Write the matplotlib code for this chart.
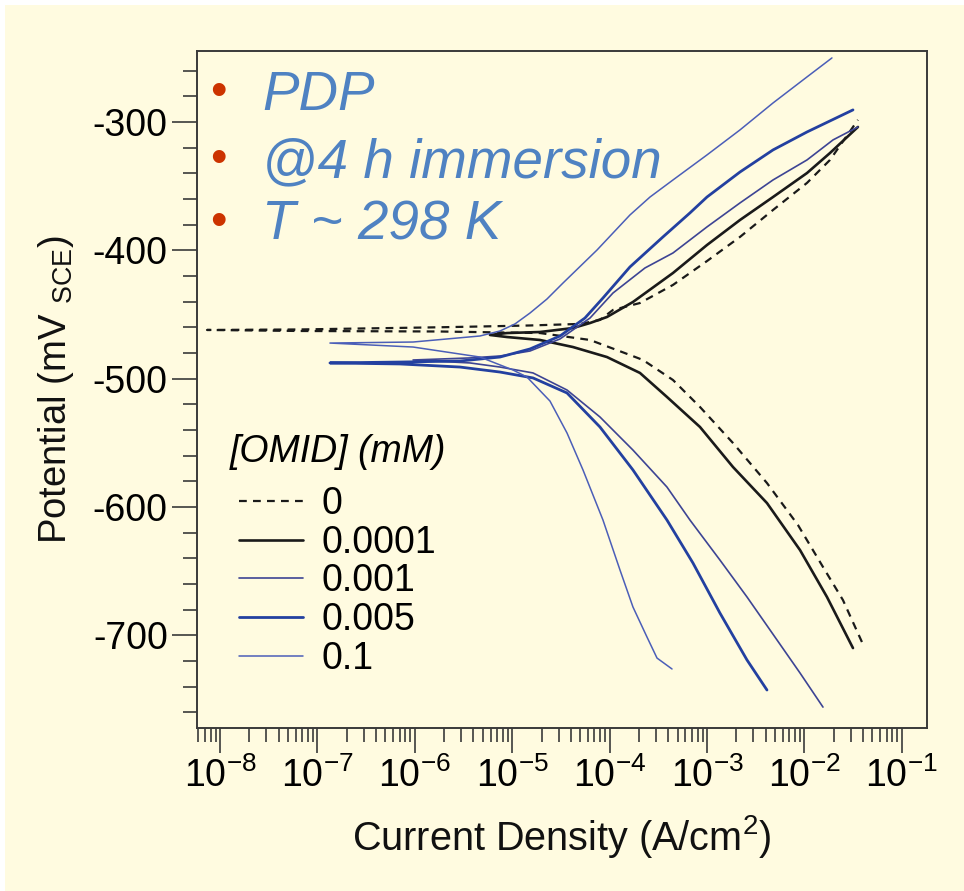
import numpy as np
import matplotlib
matplotlib.use('Agg')
import matplotlib.pyplot as plt
from matplotlib.ticker import LogLocator, MultipleLocator, NullFormatter, FixedLocator
from matplotlib.patches import Rectangle

plt.rcParams['font.family'] = ['Liberation Sans', 'DejaVu Sans']
plt.rcParams['mathtext.fontset'] = 'custom'
plt.rcParams['mathtext.rm'] = 'Liberation Sans'
plt.rcParams['mathtext.it'] = 'Liberation Sans:italic'
plt.rcParams['mathtext.bf'] = 'Liberation Sans:bold'
plt.rcParams['axes.unicode_minus'] = False

# ---------------- data (log10 of current density in A/cm2, potential in mV vs SCE)
concentrations = ['0', '0.0001', '0.001', '0.005', '0.1']
x_decades = [1e-8, 1e-7, 1e-6, 1e-5, 1e-4, 1e-3, 1e-2, 1e-1]

logi_0 = [-1.409, -1.604, -1.809, -2.066, -2.384, -2.733, -3.072, -3.349, -3.657, -3.791,
          -4.201, -4.715, -5.741, -7.179, -8.133, -7.179, -5.741, -5.331, -4.817, -4.304,
          -4.099, -3.965, -3.688, -3.349, -3.000, -2.661, -2.322, -1.973, -1.737, -1.450]
E_0 = [-705.3, -672.6, -646.8, -614.1, -581.4, -550.2, -522.1, -501.1, -485.5, -481.6,
       -469.9, -464.5, -463.3, -462.9, -462.1, -461.7, -460.0, -459.4, -458.6, -457.4,
       -454.3, -446.5, -441.1, -427.0, -408.4, -389.6, -368.6, -347.5, -329.6, -298.4]

logi_1 = [-1.501, -1.768, -2.045, -2.384, -2.733, -3.072, -3.411, -3.688, -4.027, -4.376,
          -4.715, -5.053, -5.228, -5.053, -4.715, -4.376, -4.201, -4.027, -3.760, -3.349,
          -3.000, -2.661, -2.322, -1.973, -1.737, -1.450]
E_1 = [-710.0, -670.2, -633.6, -597.0, -568.9, -537.7, -514.3, -495.6, -483.2, -475.4,
       -469.9, -467.6, -466.0, -464.5, -463.7, -460.6, -456.7, -452.0, -440.3, -417.7,
       -395.9, -376.4, -358.5, -339.8, -324.2, -303.9]

logi_2 = [-1.809, -2.045, -2.281, -2.589, -2.867, -3.175, -3.411, -3.760, -4.099, -4.437,
          -4.786, -5.125, -5.433, -6.018, -5.433, -5.125, -4.817, -4.509, -4.201, -3.965,
          -3.637, -3.349, -3.000, -2.661, -2.322, -1.973, -1.706, -1.450]
E_2 = [-756.0, -729.4, -703.7, -670.2, -641.4, -610.2, -584.5, -555.7, -529.9, -508.9,
       -495.6, -491.0, -487.8, -485.5, -483.9, -482.4, -478.5, -469.1, -452.8, -433.3,
       -413.8, -402.1, -381.8, -363.1, -345.2, -329.6, -314.0, -303.9]

logi_3 = [-2.384, -2.589, -2.867, -3.144, -3.411, -3.760, -4.099, -4.437, -4.786, -5.125,
          -5.536, -6.152, -6.871, -6.152, -5.536, -5.125, -4.817, -4.509, -4.253, -4.068,
          -3.791, -3.452, -3.175, -3.000, -2.661, -2.322, -1.973, -1.501]
E_3 = [-742.7, -719.3, -682.7, -643.7, -610.2, -571.2, -537.7, -511.2, -499.5, -494.9,
       -491.0, -488.6, -487.8, -487.1, -486.3, -483.2, -476.9, -466.8, -452.8, -437.2,
       -413.0, -389.6, -370.9, -358.5, -339.0, -321.8, -307.8, -290.6]

logi_4 = [-3.359, -3.513, -3.616, -3.760, -3.893, -4.068, -4.273, -4.437, -4.612, -4.848,
          -4.992, -5.331, -6.018, -6.871, -6.018, -5.331, -5.125, -4.971, -4.817, -4.643,
          -4.478, -4.129, -3.791, -3.585, -3.349, -3.000, -2.661, -2.322, -1.973, -1.717]
E_4 = [-726.3, -717.8, -701.4, -678.0, -649.2, -610.2, -571.2, -542.4, -517.5, -498.8,
       -493.3, -483.2, -475.4, -472.3, -471.5, -466.8, -462.9, -457.4, -448.9, -438.0,
       -425.5, -399.8, -372.5, -358.5, -345.2, -325.7, -306.2, -285.2, -264.9, -250.1]

annotation_lines = ['PDP', '@4 h immersion', 'T ~ 298 K']
x_label = 'Current Density (A/cm$^{2}$)'
y_label = r'Potential (mV $_{\rm SCE}$)'
legend_title = '[OMID] (mM)'

# ---------------- styling
bg = '#FFFBE0'
spine_col = '#3a3a3a'
series_logi = [logi_0, logi_1, logi_2, logi_3, logi_4]
series_E = [E_0, E_1, E_2, E_3, E_4]
colors = ['#1a1a1a', '#1a1a1a', '#3D4494', '#2340A0', '#4B5EB8']
widths = [1.6, 1.9, 1.2, 2.0, 1.1]
styles = ['--', '-', '-', '-', '-']

fig = plt.figure(figsize=(9.64, 8.91), dpi=100)
fig.patch.set_facecolor('white')
fig.patches.append(Rectangle((5 / 964, 0), 1, 1 - 5 / 891, transform=fig.transFigure,
                             facecolor=bg, edgecolor='none', zorder=-5))

ax = fig.add_axes([197 / 964, 1 - 728 / 891, 730 / 964, 677 / 891])
ax.set_facecolor(bg)
ax.set_zorder(1)

for lg, E, c, w, s, lab in zip(series_logi, series_E, colors, widths, styles, concentrations):
    line, = ax.plot(np.power(10.0, lg), E, color=c, lw=w, ls=s, label=lab,
                    solid_joinstyle='round', solid_capstyle='round')
    if s == '--':
        line.set_dashes((3.5, 2.8))

ax.set_xscale('log')
ax.set_xlim(10 ** -8.236, 10 ** -0.741)
ax.set_ylim(-772.3, -244.7)

ax.xaxis.set_major_locator(FixedLocator(x_decades))
ax.xaxis.set_minor_locator(LogLocator(base=10, subs=np.arange(2, 10), numticks=20))
ax.xaxis.set_minor_formatter(NullFormatter())
ax.yaxis.set_major_locator(MultipleLocator(100))
ax.yaxis.set_minor_locator(MultipleLocator(20))

for sp in ax.spines.values():
    sp.set_color(spine_col)
    sp.set_linewidth(1.4)

ax.tick_params(which='both', direction='out', color=spine_col, width=1.2,
               top=False, right=False, labelsize=27, labelcolor='black')
ax.tick_params(which='major', length=18, pad=3)
ax.tick_params(which='minor', length=10)

ax.set_xlabel(x_label, fontsize=28.5, labelpad=13, color='#111111')
ax.set_ylabel(y_label, fontsize=27.5, labelpad=12, color='#111111')

leg = ax.legend(title=legend_title, loc='upper left', bbox_to_anchor=(0.045, 0.435),
                frameon=False, fontsize=27,
                title_fontproperties={'style': 'italic', 'size': 27},
                handlelength=1.7, handletextpad=0.5, labelspacing=0.07,
                borderpad=0, borderaxespad=0)
leg._legend_box.sep = 12

# annotation bullets and text
ybase = [110, 177, 240]
for txt, yb in zip(annotation_lines, ybase):
    fig.text(262 / 964, 1 - yb / 891, txt, fontsize=39.4, style='italic',
             color='#4F82C2', ha='left', va='baseline', zorder=10)
    fig.text(218 / 964, 1 - (yb - 17) / 891, '\u2022', fontsize=34, color='#CC3300',
             ha='center', va='center', zorder=10)

fig.savefig('out.png', dpi=100, facecolor=fig.get_facecolor())
